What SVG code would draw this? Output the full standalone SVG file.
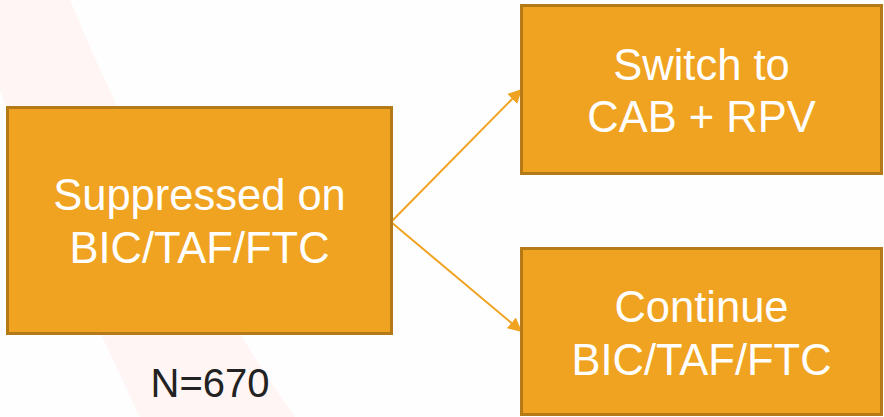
<svg xmlns="http://www.w3.org/2000/svg" width="884" height="417" viewBox="0 0 884 417">
  <defs>
    <style>
      .box { fill: #F0A321; stroke: #B57A18; stroke-width: 3; }
      .lbl { font-family: "Liberation Sans", Arial, sans-serif; font-size: 43.5px; fill: #FFFFFF; text-anchor: middle; }
      .note { font-family: "Liberation Sans", Arial, sans-serif; font-size: 40px; fill: #222222; text-anchor: middle; }
      .link { stroke: #F0A321; stroke-width: 2; fill: none; marker-end: url(#head); }
    </style>
    <marker id="head" viewBox="0 0 10 10" refX="9" refY="5" markerWidth="7" markerHeight="7" markerUnits="strokeWidth" orient="auto">
      <path d="M0,0 L10,5 L0,10 Z" fill="#F0A321"/>
    </marker>
  </defs>

  <!-- page background with soft swoosh -->
  <rect x="0" y="0" width="884" height="417" fill="#FEFEFE"/>
  <path d="M0,0 L70,0 Q170,240 295,417 L140,417 Q50,230 0,90 Z" fill="#FEF5F4"/>

  <!-- connectors -->
  <g id="connectors">
    <line class="link" x1="391" y1="222" x2="521" y2="90"/>
    <line class="link" x1="391" y1="222" x2="521" y2="331"/>
  </g>

  <g id="node-suppressed">
    <rect class="box" x="7.5" y="107.5" width="384" height="226"/>
    <text class="lbl" x="199.5" y="210">Suppressed on</text>
    <text class="lbl" x="199.5" y="263">BIC/TAF/FTC</text>
  </g>

  <g id="node-switch">
    <rect class="box" x="521.5" y="5.5" width="360" height="168"/>
    <text class="lbl" x="701.5" y="80">Switch to</text>
    <text class="lbl" x="701.5" y="132">CAB + RPV</text>
  </g>

  <g id="node-continue">
    <rect class="box" x="521.5" y="248.5" width="360" height="166"/>
    <text class="lbl" x="701.5" y="322">Continue</text>
    <text class="lbl" x="701.5" y="375">BIC/TAF/FTC</text>
  </g>

  <g id="note-n">
    <text class="note" x="210" y="397">N=670</text>
  </g>
</svg>
